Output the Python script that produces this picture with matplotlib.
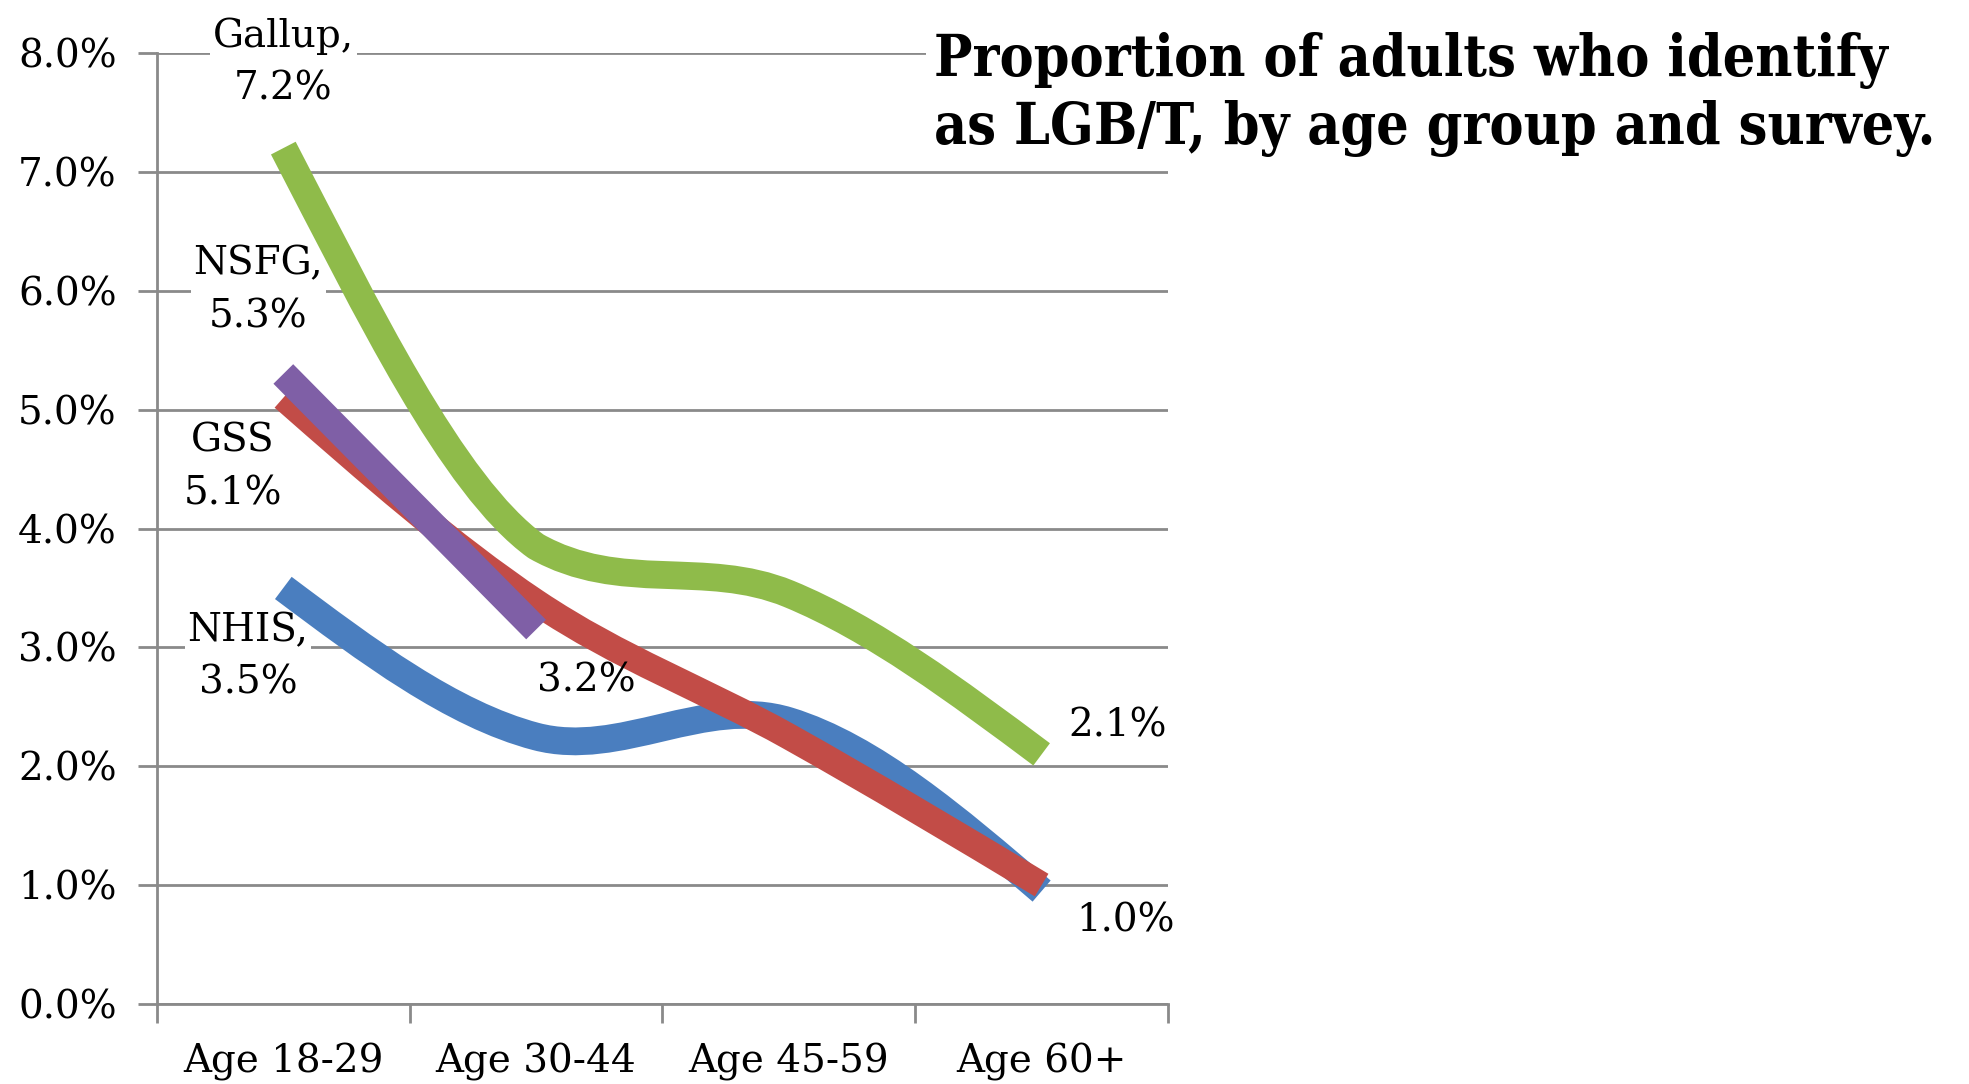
import matplotlib
matplotlib.use("Agg")
import matplotlib.pyplot as plt
from matplotlib.path import Path
from matplotlib.patches import PathPatch

# data (percent of adults identifying as LGB/T)
ages = ["Age 18-29", "Age 30-44", "Age 45-59", "Age 60+"]
gallup = [7.2, 3.85, 3.45, 2.1]
nhis = [3.5, 2.25, 2.38, 0.95]
gss = [5.1, 3.38, 2.25, 1.0]
nsfg = [5.3, 3.15]
yticks = [0, 1, 2, 3, 4, 5, 6, 7, 8]

GREEN = "#8fbb4a"
BLUE = "#4a7ebf"
RED = "#c24c47"
PURPLE = "#7f5fa6"
GRID = "#8a8a8a"
SERIF = "DejaVu Serif"


def tangents(ys):
    """catmull-rom slopes inside, 'natural' slopes at the two ends"""
    n = len(ys)
    if n == 2:
        d = ys[1] - ys[0]
        return [d, d], [d, d]
    m = [0.0] * n
    for i in range(1, n - 1):
        m[i] = (ys[i + 1] - ys[i - 1]) / 2
    m[0] = (3 * (ys[1] - ys[0]) - m[1]) / 2
    m[-1] = (3 * (ys[-1] - ys[-2]) - m[-2]) / 2
    # separate in/out slopes so a flat stretch doesn't overshoot
    m_in, m_out = list(m), list(m)
    for i in range(n - 1):
        d = ys[i + 1] - ys[i]
        if d != 0 and m[i] / d > 3:
            m_out[i] = 3 * d
            m_in[i] = (m[i] + 3 * d) / 2
        if d != 0 and m[i + 1] / d > 3:
            m_in[i + 1] = 3 * d
    return m_in, m_out


def smooth_path(ys):
    m_in, m_out = tangents(ys)
    verts = [(0, ys[0])]
    codes = [Path.MOVETO]
    for i in range(len(ys) - 1):
        verts += [(i + 1 / 3, ys[i] + m_out[i] / 3),
                  (i + 2 / 3, ys[i + 1] - m_in[i + 1] / 3),
                  (i + 1, ys[i + 1])]
        codes += [Path.CURVE4] * 3
    return Path(verts, codes)


def draw_series(ax, ys, color, z, lw=20):
    patch = PathPatch(smooth_path(ys), facecolor="none", edgecolor=color,
                      lw=lw, capstyle="butt", joinstyle="round", zorder=z)
    ax.add_patch(patch)


fig = plt.figure(figsize=(19.69, 10.84), dpi=100)
ax = fig.add_axes([0.0797, 0.0738, 0.5135, 0.8773])

ax.set_xlim(-0.5, 3.5)
ax.set_ylim(0, 8)

ax.set_yticks(yticks)
ax.set_yticklabels(["%.1f%%" % v for v in yticks], fontsize=28, family=SERIF)
ax.yaxis.grid(True, color=GRID, lw=2.0)
ax.set_axisbelow(True)

ax.set_xticks([-0.5, 0.5, 1.5, 2.5, 3.5])
ax.set_xticklabels([])
ax.set_xticks(range(len(ages)), minor=True)
ax.set_xticklabels(ages, minor=True, fontsize=28, family=SERIF)
ax.tick_params(axis="x", which="minor", length=0, pad=28)
ax.tick_params(axis="x", which="major", length=14, width=2, color=GRID, direction="out")
ax.tick_params(axis="y", length=14, width=2, color=GRID, direction="out", pad=15)

for s in ["top", "right"]:
    ax.spines[s].set_visible(False)
for s in ["left", "bottom"]:
    ax.spines[s].set_color(GRID)
    ax.spines[s].set_linewidth(2)

draw_series(ax, nhis, BLUE, 3)
draw_series(ax, gallup, GREEN, 4)
draw_series(ax, gss, RED, 5, lw=19)
draw_series(ax, nsfg, PURPLE, 6)

lab = dict(fontsize=28, family=SERIF, ha="center", va="center", linespacing=1.55)
wbox = dict(facecolor="white", edgecolor="none", pad=2)
ax.text(0, 7.92, "Gallup,\n7.2%", bbox=wbox, zorder=2, **lab)
ax.text(-0.1, 6.0, "NSFG,\n5.3%", bbox=wbox, zorder=2, **lab)
ax.text(-0.2, 4.51, "GSS\n5.1%", zorder=2, **lab)
ax.text(-0.14, 2.92, "NHIS,\n3.5%", bbox=wbox, zorder=2, **lab)
ax.text(1.2, 2.72, "3.2%", zorder=7, **lab)
ax.text(3.3, 2.34, "2.1%", zorder=7, **lab)
ax.text(3.33, 0.7, "1.0%", zorder=7, **lab)

fig.text(0.4745, 0.913, "Proportion of adults who identify\nas LGB/T, by age group and survey.",
         fontsize=41, family=SERIF, fontweight="bold", fontstretch="condensed",
         ha="left", va="center", linespacing=1.25,
         bbox=dict(facecolor="white", edgecolor="none", pad=6), zorder=10)

fig.savefig("out.png", dpi=100, facecolor="white")
